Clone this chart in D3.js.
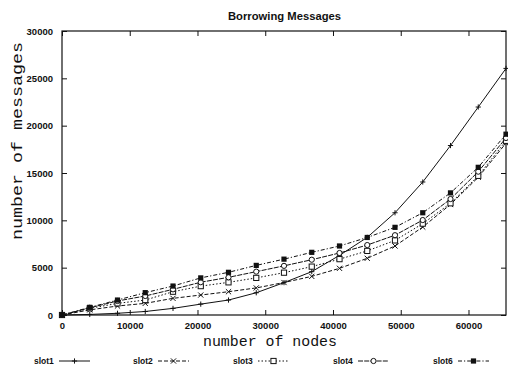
<!DOCTYPE html>
<html>
<head>
<meta charset="utf-8">
<script src="https://cdn.jsdelivr.net/npm/d3@7"></script>
<style>
  html, body { margin: 0; padding: 0; background: #fff; }
  svg { display: block; }
  .tick text { font-family: "Liberation Sans", Arial, sans-serif; font-weight: bold; font-size: 9.5px; fill: #111; }
</style>
</head>
<body>
<svg id="chart" width="508" height="369"></svg>
<script>
// Number of nodes sampled for every run
const nodes = [0, 4096, 8192, 12288, 16384, 20480, 24576, 28672, 32768,
               36864, 40960, 45056, 49152, 53248, 57344, 61440, 65536];

// Borrowing messages per slot configuration
const slot1 = [0, 60, 180, 370, 700, 1150, 1580, 2350, 3420, 4580, 6300, 8200, 10800, 14050, 17900, 21970, 26050];
const slot2 = [0, 540, 950, 1230, 1760, 2110, 2460, 2860, 3430, 4080, 4930, 5990, 7290, 9290, 11680, 14550, 18150];
const slot3 = [0, 700, 1230, 1580, 2460, 3050, 3450, 3920, 4470, 5110, 5900, 6770, 7880, 9650, 11800, 14700, 18400];
const slot4 = [0, 760, 1480, 2010, 2710, 3460, 3980, 4580, 5190, 5840, 6550, 7390, 8430, 10030, 12250, 15140, 18700];
const slot6 = [0, 810, 1580, 2360, 3060, 3920, 4510, 5240, 5900, 6620, 7290, 8190, 9260, 10800, 12900, 15600, 19100];

const xTicks = [0, 10000, 20000, 30000, 40000, 50000, 60000];
const yTicks = [0, 5000, 10000, 15000, 20000, 25000, 30000];

const series = [
  { name: "slot1", values: slot1, dash: null,        marker: "plus"   },
  { name: "slot2", values: slot2, dash: "4,2",       marker: "cross"  },
  { name: "slot3", values: slot3, dash: "1.5,2",     marker: "square" },
  { name: "slot4", values: slot4, dash: "5,1.2",     marker: "circle" },
  { name: "slot6", values: slot6, dash: "4,2,1.2,2", marker: "filled" }
];

const svg = d3.select("#chart");
const ink = "#111";
const plot = { left: 62, right: 506, top: 31, bottom: 315 };

const x = d3.scaleLinear().domain([0, 65536]).range([plot.left, plot.right]);
const y = d3.scaleLinear().domain([0, 30000]).range([plot.bottom, plot.top]);

// Frame
svg.append("rect")
  .attr("x", plot.left).attr("y", plot.top)
  .attr("width", plot.right - plot.left).attr("height", plot.bottom - plot.top)
  .attr("fill", "none").attr("stroke", ink).attr("stroke-width", 1.2);

// Axes with inward ticks, mirrored on the opposite sides
const tickLen = 5;
svg.append("g")
  .attr("transform", `translate(0,${plot.bottom})`)
  .call(d3.axisBottom(x).tickValues(xTicks).tickFormat(d3.format("d")).tickSizeInner(-tickLen).tickSizeOuter(0).tickPadding(7))
  .call(g => g.select(".domain").remove())
  .call(g => g.selectAll(".tick line").attr("stroke", ink));

svg.append("g")
  .attr("transform", `translate(0,${plot.top})`)
  .call(d3.axisTop(x).tickValues(xTicks).tickFormat("").tickSizeInner(-tickLen).tickSizeOuter(0))
  .call(g => g.select(".domain").remove())
  .call(g => g.selectAll(".tick line").attr("stroke", ink));

svg.append("g")
  .attr("transform", `translate(${plot.left},0)`)
  .call(d3.axisLeft(y).tickValues(yTicks).tickFormat(d3.format("d")).tickSizeInner(-tickLen).tickSizeOuter(0).tickPadding(9))
  .call(g => g.select(".domain").remove())
  .call(g => g.selectAll(".tick line").attr("stroke", ink));

svg.append("g")
  .attr("transform", `translate(${plot.right},0)`)
  .call(d3.axisRight(y).tickValues(yTicks).tickFormat("").tickSizeInner(-tickLen).tickSizeOuter(0))
  .call(g => g.select(".domain").remove())
  .call(g => g.selectAll(".tick line").attr("stroke", ink));

// Titles
svg.append("text")
  .attr("x", 284.5).attr("y", 20)
  .attr("text-anchor", "middle")
  .attr("font-family", "Liberation Sans, Arial, sans-serif")
  .attr("font-weight", "bold").attr("font-size", 10.5)
  .attr("textLength", 113).attr("lengthAdjust", "spacingAndGlyphs")
  .attr("fill", ink)
  .text("Borrowing Messages");

svg.append("text")
  .attr("x", 270).attr("y", 346)
  .attr("text-anchor", "middle")
  .attr("font-family", "Liberation Mono, Courier New, monospace")
  .attr("font-size", 14)
  .attr("textLength", 134).attr("lengthAdjust", "spacingAndGlyphs")
  .attr("fill", ink)
  .text("number of nodes");

svg.append("text")
  .attr("transform", "translate(22,141) rotate(-90)")
  .attr("text-anchor", "middle")
  .attr("font-family", "Liberation Mono, Courier New, monospace")
  .attr("font-size", 14)
  .attr("textLength", 198).attr("lengthAdjust", "spacingAndGlyphs")
  .attr("fill", ink)
  .text("number of messages");

// Marker drawing
function drawMarker(g, kind, cx, cy) {
  const s = 2.6;
  if (kind === "plus") {
    g.append("path").attr("d", `M${cx - s},${cy}H${cx + s}M${cx},${cy - s}V${cy + s}`)
      .attr("stroke", ink).attr("stroke-width", 1);
  } else if (kind === "cross") {
    g.append("path").attr("d", `M${cx - s},${cy - s}L${cx + s},${cy + s}M${cx - s},${cy + s}L${cx + s},${cy - s}`)
      .attr("stroke", ink).attr("stroke-width", 1);
  } else if (kind === "square") {
    g.append("rect").attr("x", cx - s).attr("y", cy - s).attr("width", 2 * s).attr("height", 2 * s)
      .attr("fill", "#fff").attr("stroke", ink).attr("stroke-width", 1);
  } else if (kind === "circle") {
    g.append("circle").attr("cx", cx).attr("cy", cy).attr("r", s)
      .attr("fill", "#fff").attr("stroke", ink).attr("stroke-width", 1);
  } else if (kind === "filled") {
    g.append("rect").attr("x", cx - s).attr("y", cy - s).attr("width", 2 * s).attr("height", 2 * s)
      .attr("fill", ink);
  }
}

const line = d3.line().x((d, i) => x(nodes[i])).y(d => y(d));

series.forEach(s => {
  const g = svg.append("g");
  g.append("path")
    .datum(s.values)
    .attr("d", line)
    .attr("fill", "none")
    .attr("stroke", ink)
    .attr("stroke-width", 1)
    .attr("stroke-dasharray", s.dash);
  s.values.forEach((v, i) => drawMarker(g, s.marker, x(nodes[i]), y(v)));
});

// Legend row
const legendX = [34, 133, 233, 333, 433];
const legendY = 361;
series.forEach((s, i) => {
  const g = svg.append("g");
  g.append("text")
    .attr("x", legendX[i]).attr("y", legendY + 3)
    .attr("font-family", "Liberation Sans, Arial, sans-serif")
    .attr("font-size", 8.5).attr("font-weight", "bold")
    .attr("fill", ink)
    .text(s.name);
  const x0 = legendX[i] + 25, x1 = legendX[i] + 56;
  g.append("line")
    .attr("x1", x0).attr("x2", x1).attr("y1", legendY).attr("y2", legendY)
    .attr("stroke", ink).attr("stroke-width", 1)
    .attr("stroke-dasharray", s.dash);
  drawMarker(g, s.marker, (x0 + x1) / 2, legendY);
});
</script>
</body>
</html>
